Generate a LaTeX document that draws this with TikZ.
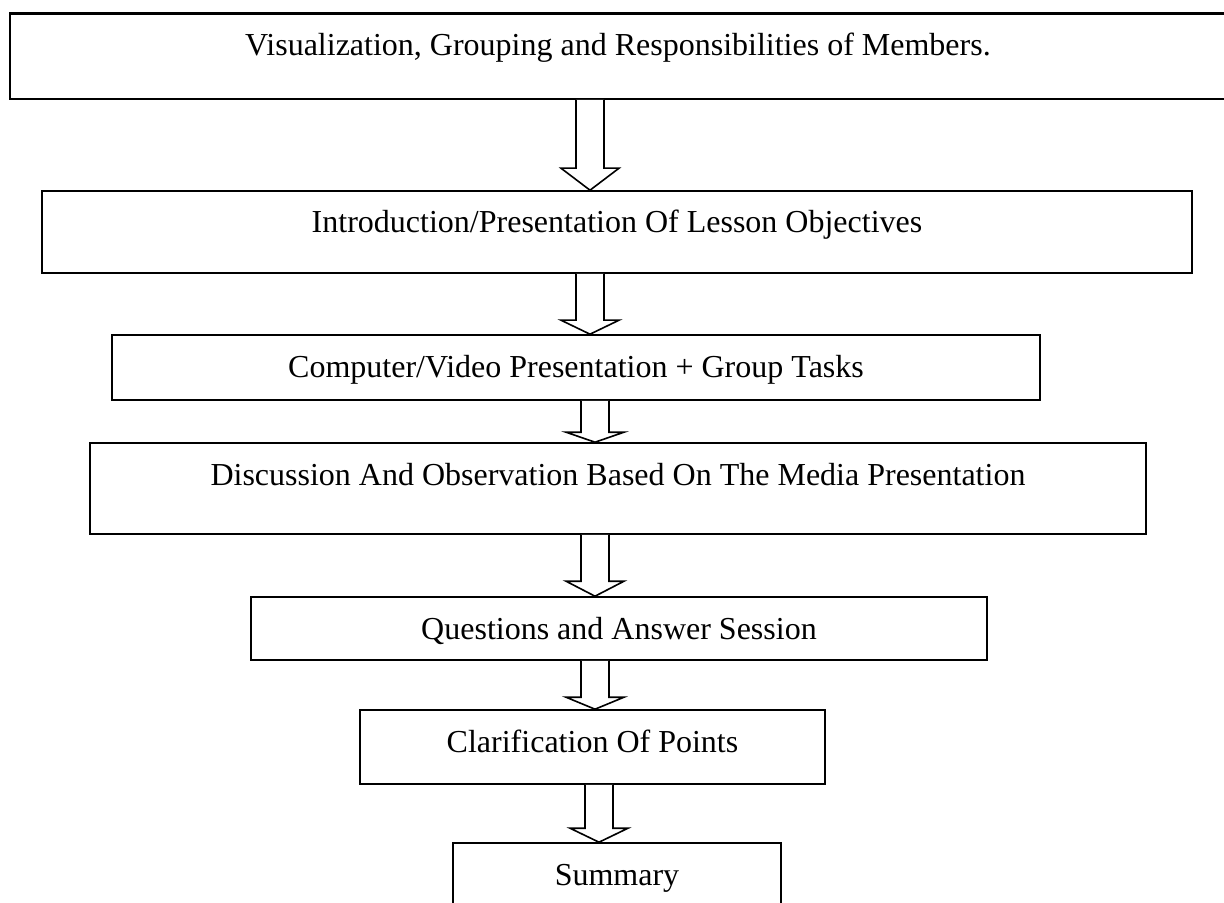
\documentclass[tikz,border=0pt]{standalone}
\usepackage{fontspec}
\setmainfont{Liberation Serif}
\newcommand{\flowarrow}[5]{%
  \coordinate (#1-top) at (#4,0 |- #2.south);
  \coordinate (#1-tip) at (#4,0 |- #3.north);
  \draw[hollow] ([xshift=-7pt]#1-top) -- ([xshift=-7pt,yshift=#5]#1-tip)
    -- ([xshift=-14.5pt,yshift=#5]#1-tip) -- (#1-tip)
    -- ([xshift=14.5pt,yshift=#5]#1-tip) -- ([xshift=7pt,yshift=#5]#1-tip)
    -- ([xshift=7pt]#1-top);
}
\begin{document}
\begin{tikzpicture}[x=0.5pt, y=-0.5pt,
    stage/.style 2 args={draw, line width=0.8pt, inner sep=0pt,
      minimum width=#1*0.5pt, text height=21pt, text depth={(#2-42)*0.5pt},
      font=\fontsize{16}{19}\selectfont},
    hollow/.style={line width=0.8pt, fill=white, line join=miter}]
  \useasboundingbox (0,0) rectangle (1224,903);
  \node[stage={1216}{85}] (visual) at (618,56.5) {Visualization, Grouping and Responsibilities of Members.};
  \draw[line width=1.4pt] (visual.north west) -- (visual.north east);
  \node[stage={1150}{82}] (intro) at (617,232) {Introduction/Presentation Of Lesson Objectives};
  \node[stage={928}{65}] (computer) at (576,367.5) {Computer/Video Presentation + Group Tasks};
  \node[stage={1056}{91}] (discuss) at (618,488.5) {Discussion And Observation Based On The Media Presentation};
  \node[stage={736}{63}] (questions) at (619,628.5) {Questions and Answer Session};
  \node[stage={465}{74}] (clarify) at (592.5,747) {Clarification Of Points};
  \node[stage={328}{97}] (summary) at (617,891.5) {Summary};
  \flowarrow{a1}{visual}{intro}{590}{11pt}
  \flowarrow{a2}{intro}{computer}{590}{7pt}
  \flowarrow{a3}{computer}{discuss}{595}{5pt}
  \flowarrow{a4}{discuss}{questions}{595}{7.5pt}
  \flowarrow{a5}{questions}{clarify}{595}{6pt}
  \flowarrow{a6}{clarify}{summary}{599}{7pt}
\end{tikzpicture}
\end{document}
